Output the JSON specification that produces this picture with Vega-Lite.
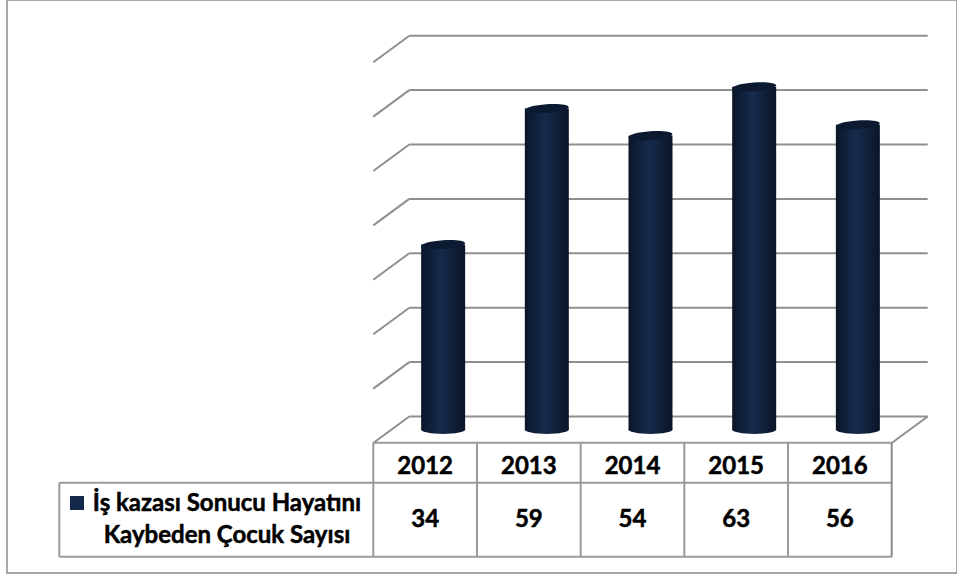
{
  "$schema": "https://vega.github.io/schema/vega-lite/v6.json",
  "width": 950,
  "height": 573,
  "padding": {"left": 7, "top": 0, "right": 0, "bottom": 6},
  "autosize": {"type": "none"},
  "background": "white",
  "config": {
    "view": {"stroke": "#8c8c8c", "strokeWidth": 1.5},
    "axis": {"disable": true},
    "text": {"font": "Lato", "fontWeight": "bold", "fontSize": 24, "fill": "#000000", "stroke": "#000000", "strokeWidth": 0.5}
  },
  "datasets": {
    "counts": [
      {"year": 2012, "value": 34},
      {"year": 2013, "value": 59},
      {"year": 2014, "value": 54},
      {"year": 2015, "value": 63},
      {"year": 2016, "value": 56}
    ],
    "grid": [{"v": 0}, {"v": 10}, {"v": 20}, {"v": 30}, {"v": 40}, {"v": 50}, {"v": 60}, {"v": 70}],
    "rows": [{"r": 1}, {"r": 2}],
    "one": [{"label": "İş kazası Sonucu Hayatını\nKaybeden Çocuk Sayısı"}]
  },
  "layer": [
    {
      "layer": [
        {
          "data": {"name": "grid"},
          "mark": {"type": "rule", "stroke": "#8f8f8f", "strokeWidth": 2, "xOffset": 36, "x2Offset": 36},
          "encoding": {
            "x": {"datum": 2011.5, "type": "quantitative", "scale": {"domain": [2011.5, 2016.5], "range": [366.3, 884.7], "zero": false, "nice": false, "padding": 0}},
            "x2": {"datum": 2016.5},
            "y": {"field": "v", "type": "quantitative", "scale": {"domain": [0, 70], "range": [416.5, 35.7], "zero": false, "nice": false, "padding": 0}}
          }
        },
        {
          "data": {"name": "grid"},
          "mark": {"type": "rule", "stroke": "#8f8f8f", "strokeWidth": 2, "xOffset": 36, "x2Offset": 0, "y2Offset": 26.5},
          "encoding": {
            "x": {"datum": 2011.5, "type": "quantitative"},
            "x2": {"datum": 2011.5},
            "y": {"field": "v", "type": "quantitative"},
            "y2": {"field": "v"}
          }
        },
        {
          "data": {"name": "one"},
          "mark": {"type": "rule", "stroke": "#8f8f8f", "strokeWidth": 2, "xOffset": 36, "x2Offset": 0, "y2Offset": 26.5},
          "encoding": {
            "x": {"datum": 2016.5, "type": "quantitative"},
            "x2": {"datum": 2016.5},
            "y": {"datum": 0, "type": "quantitative"},
            "y2": {"datum": 0}
          }
        },
        {
          "data": {"name": "counts"},
          "mark": {
            "type": "bar", "width": 44, "xOffset": 18, "yOffset": 13, "y2Offset": 13,
            "fill": {"gradient": "linear", "x1": 0, "x2": 1, "y1": 0, "y2": 0,
              "stops": [{"offset": 0, "color": "#0a1527"}, {"offset": 0.45, "color": "#162b4d"}, {"offset": 1, "color": "#0a1527"}]}
          },
          "encoding": {
            "x": {"field": "year", "type": "quantitative"},
            "y": {"field": "value", "type": "quantitative"},
            "y2": {"datum": 0}
          }
        },
        {
          "data": {"name": "counts"},
          "mark": {
            "type": "point", "shape": "M -1 0 A 1 0.2 0 1 0 1 0 A 1 0.2 0 1 0 -1 0 Z", "size": 1936, "filled": true, "opacity": 1, "strokeWidth": 0,
            "xOffset": 18, "yOffset": 13,
            "fill": {"gradient": "linear", "x1": 0, "x2": 1, "y1": 0, "y2": 0,
              "stops": [{"offset": 0, "color": "#0a1527"}, {"offset": 0.45, "color": "#162b4d"}, {"offset": 1, "color": "#0a1527"}]}
          },
          "encoding": {
            "x": {"field": "year", "type": "quantitative"},
            "y": {"datum": 0, "type": "quantitative"}
          }
        },
        {
          "data": {"name": "counts"},
          "mark": {
            "type": "point", "shape": "M -1 0 A 1 0.2 0 1 0 1 0 A 1 0.2 0 1 0 -1 0 Z", "size": 1936, "filled": true, "opacity": 1, "strokeWidth": 0,
            "xOffset": 18, "yOffset": 13, "angle": -4, "fill": "#0c1a31"
          },
          "encoding": {
            "x": {"field": "year", "type": "quantitative"},
            "y": {"field": "value", "type": "quantitative"}
          }
        }
      ]
    },
    {
      "layer": [
        {
          "data": {"name": "one"},
          "mark": {"type": "rule", "stroke": "#9a9a9a", "strokeWidth": 2},
          "encoding": {
            "x": {"datum": 2011.5, "type": "quantitative"},
            "x2": {"datum": 2016.5},
            "y": {"datum": 0, "type": "quantitative", "scale": {"domain": [0, 1, 2], "range": [442.7, 482.7, 556.7], "zero": false, "nice": false, "padding": 0}}
          }
        },
        {
          "data": {"name": "rows"},
          "mark": {"type": "rule", "stroke": "#9a9a9a", "strokeWidth": 2, "xOffset": -314},
          "encoding": {
            "x": {"datum": 2011.5, "type": "quantitative"},
            "x2": {"datum": 2016.5},
            "y": {"field": "r", "type": "quantitative"}
          }
        },
        {
          "data": {"name": "counts"},
          "mark": {"type": "rule", "stroke": "#9a9a9a", "strokeWidth": 2, "xOffset": -51.84},
          "encoding": {
            "x": {"field": "year", "type": "quantitative"},
            "y": {"datum": 0, "type": "quantitative"},
            "y2": {"datum": 2}
          }
        },
        {
          "data": {"name": "one"},
          "mark": {"type": "rule", "stroke": "#8c8c8c", "strokeWidth": 2},
          "encoding": {
            "x": {"datum": 2016.5, "type": "quantitative"},
            "y": {"datum": 0, "type": "quantitative"},
            "y2": {"datum": 2}
          }
        },
        {
          "data": {"name": "one"},
          "mark": {"type": "rule", "stroke": "#9a9a9a", "strokeWidth": 2, "xOffset": -314},
          "encoding": {
            "x": {"datum": 2011.5, "type": "quantitative"},
            "y": {"datum": 1, "type": "quantitative"},
            "y2": {"datum": 2}
          }
        },
        {
          "data": {"name": "counts"},
          "mark": {"type": "text", "baseline": "middle", "dy": 4},
          "encoding": {
            "x": {"field": "year", "type": "quantitative"},
            "y": {"datum": 0.5, "type": "quantitative"},
            "text": {"field": "year", "type": "nominal"}
          }
        },
        {
          "data": {"name": "counts"},
          "mark": {"type": "text", "baseline": "middle", "dy": 0},
          "encoding": {
            "x": {"field": "year", "type": "quantitative"},
            "y": {"datum": 1.5, "type": "quantitative"},
            "text": {"field": "value", "type": "quantitative"}
          }
        },
        {
          "data": {"name": "one"},
          "mark": {"type": "point", "shape": "square", "size": 196, "filled": true, "opacity": 1, "fill": "#13284a", "strokeWidth": 0, "xOffset": -296.3, "yOffset": 20.3},
          "encoding": {
            "x": {"datum": 2011.5, "type": "quantitative"},
            "y": {"datum": 1, "type": "quantitative"}
          }
        },
        {
          "data": {"name": "one"},
          "mark": {"type": "text", "align": "center", "baseline": "alphabetic", "lineBreak": "\n", "lineHeight": 32, "xOffset": -146.3, "dy": 28},
          "encoding": {
            "x": {"datum": 2011.5, "type": "quantitative"},
            "y": {"datum": 1, "type": "quantitative"},
            "text": {"field": "label", "type": "nominal"}
          }
        }
      ]
    }
  ],
  "resolve": {"scale": {"y": "independent"}}
}
